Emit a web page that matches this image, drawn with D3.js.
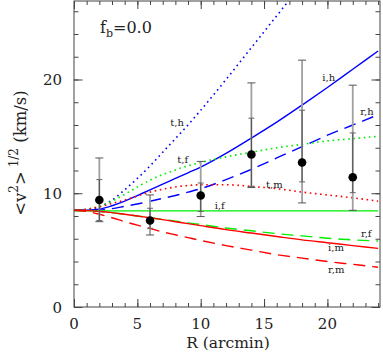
<!DOCTYPE html>
<html><head><meta charset="utf-8">
<script src="https://cdn.jsdelivr.net/npm/d3@7"></script>
<style>
html,body{margin:0;padding:0;background:#fff;}
svg{display:block;}
text{font-family:"DejaVu Serif","Liberation Serif",serif;fill:#222;}
</style></head>
<body><svg id="c" width="383" height="354"></svg>
<script>
// ---- data ----
const R = [0, 1, 2, 3, 4, 5, 6, 7, 8, 9, 10, 12, 14, 16, 18, 20, 22, 24];
const ih = [8.5, 8.52, 8.6, 8.9, 9.3, 9.8, 10.3, 10.8, 11.3, 11.8, 12.3, 13.5, 14.85, 16.25, 17.75, 19.3, 20.9, 22.5];
const rh = [8.5, 8.5, 8.52, 8.65, 8.85, 9.05, 9.3, 9.55, 9.8, 10.1, 10.4, 11.2, 12.1, 13.1, 14.1, 15.1, 16.0, 16.9];
const th = [8.5, 8.55, 8.8, 9.4, 10.3, 11.3, 12.4, 13.6, 14.8, 16.0, 17.3, 20.0, 22.8, 25.6, 28.4, null, null, null];
const tf = [8.5, 8.6, 8.85, 9.3, 9.9, 10.55, 11.15, 11.65, 12.05, 12.4, 12.7, 13.2, 13.6, 14.0, 14.3, 14.6, 14.8, 15.0];
const tm = [8.5, 8.6, 8.8, 9.1, 9.4, 9.75, 10.1, 10.35, 10.55, 10.68, 10.75, 10.75, 10.6, 10.4, 10.1, 9.85, 9.6, 9.3];
const iff = [8.45, 8.45, 8.45, 8.45, 8.45, 8.45, 8.45, 8.45, 8.45, 8.45, 8.45, 8.45, 8.45, 8.45, 8.45, 8.45, 8.45, 8.45];
const rf = [8.5, 8.47, 8.4, 8.3, 8.15, 8.0, 7.85, 7.7, 7.55, 7.4, 7.25, 6.95, 6.7, 6.45, 6.25, 6.05, 5.9, 5.8];
const im = [8.5, 8.47, 8.4, 8.3, 8.15, 8.0, 7.85, 7.68, 7.5, 7.33, 7.15, 6.8, 6.5, 6.2, 5.9, 5.65, 5.4, 5.15];
const rm = [8.5, 8.4, 8.15, 7.85, 7.5, 7.2, 6.9, 6.6, 6.35, 6.1, 5.85, 5.4, 5.0, 4.6, 4.3, 4.0, 3.75, 3.5];

const curveNames = ["t,h", "i,h", "r,h", "t,f", "i,f", "r,f", "t,m", "i,m", "r,m"];
const curveValues = [th, ih, rh, tf, iff, rf, tm, im, rm];
const curveColors = ["#0000ff", "#0000ff", "#0000ff", "#00ee00", "#00ee00", "#00ee00", "#ff0000", "#ff0000", "#ff0000"];
const curveStyles = ["dot", "solid", "dash", "dot", "solid", "dash", "dot", "solid", "dash"];
// label anchor points in data coordinates
const labelR = [7.6, 19.6, 22.6, 8.15, 11.1, 22.65, 15.15, 20.05, 20.05];
const labelV = [15.9, 19.9, 16.9, 12.65, 8.62, 6.16, 10.47, 4.93, 3.0];

// observed points
const obsR = [2, 6, 10, 14, 18, 22];
const obsV = [9.4, 7.6, 9.8, 13.4, 12.7, 11.4];
const obsLoOuter = [7.5, 6.33, 7.95, 10.5, 9.15, 8.5];
const obsHiOuter = [13.1, 9.85, 12.8, 19.7, 21.7, 19.5];
const obsLoInner = [7.6, 6.92, 8.4, 10.6, 11.0, 10.05];
const obsHiInner = [11.2, 8.68, 10.9, 16.6, 17.3, 15.3];

const xMajor = [0, 5, 10, 15, 20];
const yMajor = [0, 10, 20];

// ---- drawing ----
const svg = d3.select("#c");
const L = 74, Rr = 380, T = 1, B = 307;
const x = d3.scaleLinear().domain([0, 24.15]).range([L, Rr]);
const y = d3.scaleLinear().domain([0, 26.9]).range([B, T]);

const defs = svg.append("defs");
defs.append("clipPath").attr("id", "clip").append("rect")
  .attr("x", L).attr("y", T).attr("width", Rr - L).attr("height", B - T);

const plot = svg.append("g").attr("clip-path", "url(#clip)");

const line = d3.line().defined(d => d[1] != null)
  .x(d => x(d[0])).y(d => y(d[1])).curve(d3.curveMonotoneX);

const dashFor = s => s === "dot" ? "1.6,3.6" : (s === "dash" ? "12,7" : null);

curveValues.forEach((vals, i) => {
  plot.append("path")
    .datum(R.map((r, k) => [r, vals[k]]))
    .attr("d", line)
    .attr("fill", "none")
    .attr("stroke", curveColors[i])
    .attr("stroke-width", curveStyles[i] === "dot" ? 1.6 : 1.4)
    .attr("stroke-dasharray", dashFor(curveStyles[i]));
});

// error bars
const eb = plot.append("g");
obsR.forEach((r, i) => {
  const cx = x(r);
  eb.append("line").attr("x1", cx).attr("x2", cx)
    .attr("y1", y(obsLoOuter[i])).attr("y2", y(obsHiOuter[i]))
    .attr("stroke", "#a0a0a0").attr("stroke-width", 1.8);
  eb.append("line").attr("x1", cx).attr("x2", cx)
    .attr("y1", y(obsLoInner[i])).attr("y2", y(obsHiInner[i]))
    .attr("stroke", "#444").attr("stroke-width", 0.9);
  [obsLoOuter[i], obsHiOuter[i]].forEach(v => {
    eb.append("line").attr("x1", cx - 4).attr("x2", cx + 4)
      .attr("y1", y(v)).attr("y2", y(v)).attr("stroke", "#555").attr("stroke-width", 1);
  });
  [obsLoInner[i], obsHiInner[i]].forEach(v => {
    eb.append("line").attr("x1", cx - 3).attr("x2", cx + 3)
      .attr("y1", y(v)).attr("y2", y(v)).attr("stroke", "#666").attr("stroke-width", 1);
  });
  eb.append("circle").attr("cx", cx).attr("cy", y(obsV[i])).attr("r", 4.3).attr("fill", "#000");
});

// curve labels
curveNames.forEach((n, i) => {
  svg.append("text").attr("x", x(labelR[i])).attr("y", y(labelV[i]))
    .attr("font-size", 10).text(n);
});

// axes frame
const axisColor = "#444";
svg.append("rect").attr("x", L).attr("y", T).attr("width", Rr - L).attr("height", B - T)
  .attr("fill", "none").attr("stroke", axisColor).attr("stroke-width", 1);

const axBottom = d3.axisBottom(x).tickValues(d3.range(0, 25, 1)).tickSize(-4).tickFormat("");
const axTop = d3.axisTop(x).tickValues(d3.range(0, 25, 1)).tickSize(-4).tickFormat("");
const axLeft = d3.axisLeft(y).tickValues(d3.range(0, 27, 2)).tickSize(-4.5).tickFormat("");
const axRight = d3.axisRight(y).tickValues(d3.range(0, 27, 2)).tickSize(-4.5).tickFormat("");
const axBottomM = d3.axisBottom(x).tickValues(xMajor).tickSize(-8).tickFormat("");
const axTopM = d3.axisTop(x).tickValues(xMajor).tickSize(-8).tickFormat("");
const axLeftM = d3.axisLeft(y).tickValues(yMajor).tickSize(-8.5).tickFormat("");
const axRightM = d3.axisRight(y).tickValues(yMajor).tickSize(-8.5).tickFormat("");

function addAxis(ax, tx, ty) {
  const g = svg.append("g").attr("transform", `translate(${tx},${ty})`).call(ax);
  g.select(".domain").remove();
  g.selectAll("line").attr("stroke", axisColor);
}
addAxis(axBottom, 0, B); addAxis(axTop, 0, T);
addAxis(axLeft, L, 0); addAxis(axRight, Rr, 0);
addAxis(axBottomM, 0, B); addAxis(axTopM, 0, T);
addAxis(axLeftM, L, 0); addAxis(axRightM, Rr, 0);

// tick labels
xMajor.forEach(v => {
  svg.append("text").attr("x", x(v)).attr("y", 329).attr("text-anchor", "middle")
    .attr("font-size", 15).text(v);
});
yMajor.forEach(v => {
  svg.append("text").attr("x", 62).attr("y", y(v) + 5.5).attr("text-anchor", "end")
    .attr("font-size", 15).text(v);
});

// axis titles
svg.append("text").attr("x", 228).attr("y", 348).attr("text-anchor", "middle")
  .attr("font-size", 15.5).text("R (arcmin)");

const yl = svg.append("text").attr("transform", "translate(26,153) rotate(-90)")
  .attr("text-anchor", "middle").attr("font-size", 16.5);
yl.append("tspan").text("<v");
yl.append("tspan").attr("font-size", 12).attr("dy", -8).text("2");
yl.append("tspan").attr("dy", 8).text(">");
yl.append("tspan").attr("font-size", 12).attr("dy", -8).text(" 1/2");
yl.append("tspan").attr("dy", 8).text("  (km/s)");

const fb = svg.append("text").attr("x", 100).attr("y", 33).attr("font-size", 16);
fb.append("tspan").text("f");
fb.append("tspan").attr("font-size", 11).attr("dy", 4).text("b");
fb.append("tspan").attr("dy", -4).text("=0.0");
</script></body></html>
